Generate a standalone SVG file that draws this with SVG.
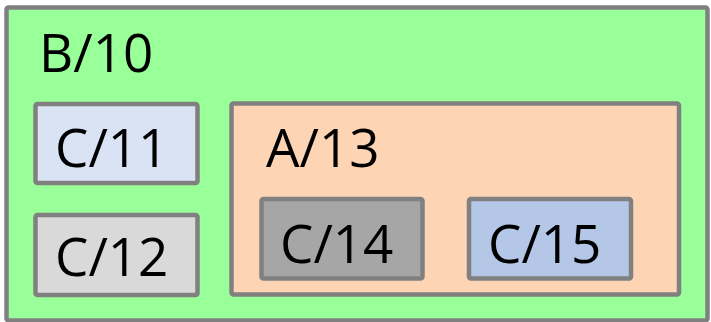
<svg xmlns="http://www.w3.org/2000/svg" width="711" height="322" viewBox="0 0 711 322">
  <style>
    .box { stroke: #808080; stroke-width: 4.5; }
    .lbl { font-family: "Open Sans", "Noto Sans", "Liberation Sans", sans-serif; font-size: 53px; fill: #000000; }
  </style>
  <rect width="711" height="322" fill="#ffffff"/>
  <g id="node-b10">
    <rect class="box" x="6.5" y="7.5" width="701" height="313" rx="2" fill="#99ff99"/>
    <text class="lbl" x="39" y="72">B/10</text>
  </g>
  <g id="node-c11">
    <rect class="box" x="35.5" y="104" width="162" height="79" rx="2" fill="#dae3f3"/>
    <text class="lbl" x="55" y="167">C/11</text>
  </g>
  <g id="node-c12">
    <rect class="box" x="35.5" y="215" width="162" height="80" rx="2" fill="#d9d9d9"/>
    <text class="lbl" x="55" y="276">C/12</text>
  </g>
  <g id="node-a13">
    <rect class="box" x="231.5" y="103.5" width="447.5" height="191" rx="2" fill="#fdd5b4"/>
    <text class="lbl" x="266" y="167">A/13</text>
  </g>
  <g id="node-c14">
    <rect class="box" x="261.5" y="199" width="161" height="79.5" rx="2" fill="#a6a6a6"/>
    <text class="lbl" x="280" y="263">C/14</text>
  </g>
  <g id="node-c15">
    <rect class="box" x="469" y="199" width="162" height="79.5" rx="2" fill="#b4c7e7"/>
    <text class="lbl" x="488" y="263">C/15</text>
  </g>
  <g id="connectors"/>
</svg>
